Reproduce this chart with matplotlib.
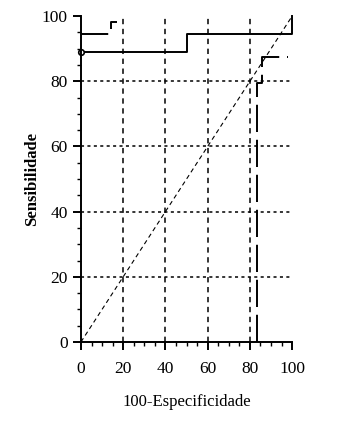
import matplotlib
matplotlib.use("Agg")
import matplotlib.pyplot as plt

# solid ROC curve
solid_x = [0, 50, 50, 100, 100]
solid_y = [88.9, 88.9, 94.4, 94.4, 100]
solid_y_start = 88.9

# long-dashed curve, two visible pieces
dash1_x = [0, 14.3, 14.3, 17]
dash1_y = [94.4, 94.4, 98.2, 98.2]
dash2_x = [83.3, 83.3, 85.5, 85.5, 98]
dash2_y = [0, 79.5, 79.5, 87.5, 87.5]

# reference diagonal
diag = [0, 100]

ticks = [0, 20, 40, 60, 80, 100]
grid_pos = [20, 40, 60, 80]

plt.rcParams['font.family'] = ['Liberation Serif', 'DejaVu Serif']

fig = plt.figure(figsize=(3.55, 4.34), dpi=100)
ax = fig.add_axes([0.228, 0.212, 0.595, 0.751])

for g in grid_pos:
    ax.plot([0, 100], [g, g], color='black', lw=1.1, dashes=(2, 2.2))
    ax.plot([g, g], [0, 100], color='black', lw=1.1, dashes=(3.5, 3))

ax.plot(diag, diag, color='black', lw=0.8, dashes=(4, 3))

ax.plot(solid_x, solid_y, color='black', lw=1.4, clip_on=False)
ax.plot([0], [solid_y_start], marker='o', ms=4, mfc='white', mec='black',
        mew=1.2, clip_on=False)

ax.plot(dash1_x, dash1_y, color='black', lw=1.4, dashes=(14, 4), clip_on=False)
ax.plot(dash2_x, dash2_y, color='black', lw=1.4, dashes=(14, 4), clip_on=False)

ax.set_xlim(0, 100)
ax.set_ylim(0, 100)
ax.spines['top'].set_visible(False)
ax.spines['right'].set_visible(False)
ax.spines['left'].set_linewidth(1.4)
ax.spines['bottom'].set_linewidth(1.4)

ax.set_xticks(ticks)
ax.set_yticks(ticks)
ax.set_xticks(range(0, 101, 5), minor=True)
ax.set_yticks(range(0, 101, 5), minor=True)
ax.tick_params(which='major', length=6, width=1.4, labelsize=12.5, direction='out')
ax.tick_params(which='minor', length=3, width=1.0, direction='out')
ax.tick_params(axis='x', pad=8)

ax.set_xlabel('100-Especificidade', fontsize=12, labelpad=12)
ax.set_ylabel('Sensibilidade', fontsize=12, fontweight='bold', labelpad=1)

fig.savefig('out.png', dpi=100)
